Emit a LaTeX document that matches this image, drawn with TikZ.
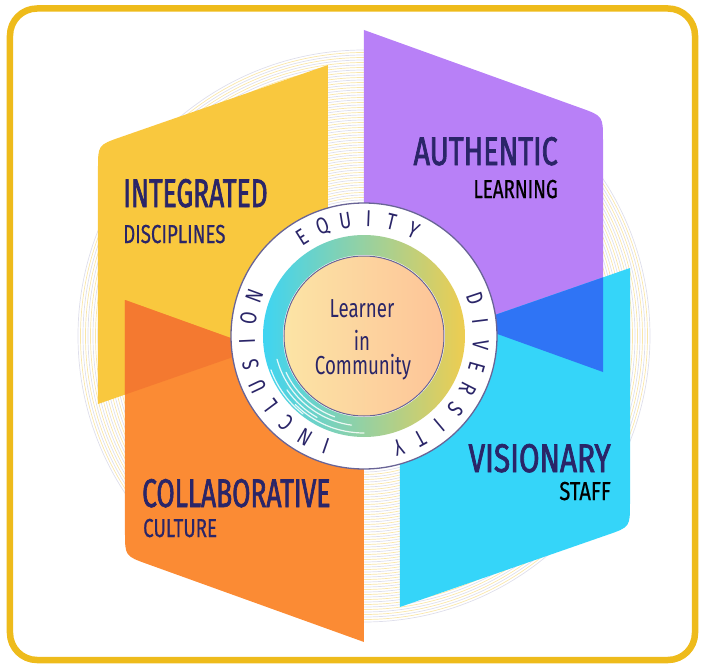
\documentclass[tikz,border=0pt]{standalone}
\usepackage{fontspec}
\usepackage{tikz}
\usetikzlibrary{calc,backgrounds}
\newfontfamily\titlefont[FakeStretch=0.66,FakeBold=1.6]{Fira Sans}
\newfontfamily\subfont[FakeStretch=0.72,FakeBold=0.5]{Fira Sans}
\newfontfamily\ringfont[FakeStretch=0.78]{Fira Sans}
\newfontfamily\hubfont[FakeStretch=0.72]{Fira Sans}
\definecolor{framegold}{RGB}{238,187,27}
\definecolor{panelyellow}{RGB}{249,200,62}
\definecolor{panelpurple}{RGB}{184,128,247}
\definecolor{panelorange}{RGB}{251,139,52}
\definecolor{panelcyan}{RGB}{53,213,249}
\definecolor{mixblue}{RGB}{47,116,245}
\definecolor{mixorange}{RGB}{244,121,48}
\definecolor{navy}{RGB}{42,37,104}
\definecolor{ringline}{RGB}{105,100,150}
\definecolor{ringcyan}{RGB}{62,212,242}
\definecolor{ringyellow}{RGB}{238,205,80}
\definecolor{peachleft}{RGB}{252,228,165}
\definecolor{peachright}{RGB}{253,196,152}
\definecolor{swirlgray}{RGB}{214,214,230}
\definecolor{swirlyellow}{RGB}{248,224,150}
\newcommand{\ringradius}{133pt}
\newcommand{\yellowpath}{(-36,12) -- (-266,-68) -- (-266,167) .. controls (-266,191) .. (-243.3,198.9) -- (-36,271) -- cycle}
\newcommand{\cyanpath}{(36,-12) -- (266,68) -- (266,-167) .. controls (266,-191) .. (243.3,-198.9) -- (36,-271) -- cycle}
\newcommand{\purplepath}{(0,50) -- (0,306) -- (216.4,228.1) .. controls (239,220) .. (239,196) -- (239,-36) -- cycle}
\newcommand{\orangepath}{(0,-50) -- (0,-306) -- (-216.4,-228.1) .. controls (-239,-220) .. (-239,-196) -- (-239,36) -- cycle}
\tikzset{
  paneltitle/.style={font=\titlefont\fontsize{40}{40}\selectfont, text=navy, inner sep=0pt},
  panelsub/.style={font=\subfont\fontsize{26}{26}\selectfont, inner sep=0pt},
  ringletter/.style={font=\ringfont\fontsize{23}{23}\selectfont, text=navy, inner sep=0pt},
  hubtext/.style={font=\hubfont\fontsize{26}{26}\selectfont, text=navy, inner sep=0pt, anchor=base}
}

\begin{document}
\begin{tikzpicture}[x=1pt,y=1pt]
\useasboundingbox (-364,-334) rectangle (346,336);
%swirl
\foreach \r [count=\i] in {136,138.5,...,288} {
  \ifodd\i \def\swirl{swirlgray}\else\def\swirl{swirlyellow}\fi
  \draw[\swirl, line width=0.7pt, opacity=0.8] (0,0) circle[radius=\r pt];
}
%panels
\fill[panelyellow] \yellowpath;
\fill[panelpurple] \purplepath;
\fill[panelorange] \orangepath;
\fill[panelcyan] \cyanpath;
%overlaps
\begin{scope}
\clip \yellowpath;
\fill[mixorange] \orangepath;
\end{scope}
\begin{scope}
\clip \purplepath;
\fill[mixblue] \cyanpath;
\end{scope}
%titles
\node[paneltitle, anchor=base west] (integrated) at (-241,129) {INTEGRATED};
\node[panelsub, anchor=base west, text=navy] (disciplines) at (-241,93) {DISCIPLINES};
\node[paneltitle, anchor=base east, xscale=1.09] (authentic) at (194,171) {AUTHENTIC};
\node[panelsub, anchor=base east, text=black] (learning) at (194,138) {LEARNING};
\node[paneltitle, anchor=base west] (collaborative) at (-222,-171) {COLLABORATIVE};
\node[panelsub, anchor=base west, text=navy] (culture) at (-221,-201) {CULTURE};
\node[paneltitle, anchor=base east, xscale=1.13] (visionary) at (247,-136) {VISIONARY};
\node[panelsub, anchor=base east, text=black, xscale=1.08] (staff) at (247,-164) {STAFF};
%ring
\fill[white] (0,0) circle[radius=\ringradius];
\shade[left color=ringcyan, right color=ringyellow] (0,0) circle[radius=101pt];
\foreach \r/\s/\e in {86/205/250, 90/195/262, 94/215/240, 97/225/270, 99/200/232}
  \draw[white, line width=1.2pt, line cap=round, opacity=0.85] (\s:\r) arc[start angle=\s, end angle=\e, radius=\r pt];
\fill[white] (0,0) circle[radius=81pt];
\shade[left color=peachleft, right color=peachright] (0,0) circle[radius=80pt];
\draw[ringline, line width=1pt] (0,0) circle[radius=80pt];
\draw[ringline, line width=1.3pt] (0,0) circle[radius=\ringradius];
\foreach \ch [count=\i] in {E,Q,U,I,T,Y} {
  \pgfmathsetmacro{\a}{122-11.4*(\i-1)}
  \node[ringletter, rotate=\a-90] (eq\i) at (\a:117) {\ch};
}
\foreach \ch [count=\i] in {D,I,V,E,R,S,I,T,Y} {
  \pgfmathsetmacro{\a}{18.5-11.4*(\i-1)}
  \node[ringletter, rotate=\a-90] (di\i) at (\a:117) {\ch};
}
\foreach \ch [count=\i] in {I,N,C,L,U,S,I,O,N} {
  \pgfmathsetmacro{\a}{251-11.4*(\i-1)}
  \node[ringletter, rotate=\a-90] (in\i) at (\a:117) {\ch};
}
%hub
\node[hubtext] (learner) at (-2,19) {Learner};
\node[hubtext] (inword) at (-2,-14) {in};
\node[hubtext] (community) at (-1,-38) {Community};
%frame
\draw[framegold, line width=6.5pt, rounded corners=27pt] (-354,327.5) rectangle (331,-324);
\end{tikzpicture}
\end{document}
